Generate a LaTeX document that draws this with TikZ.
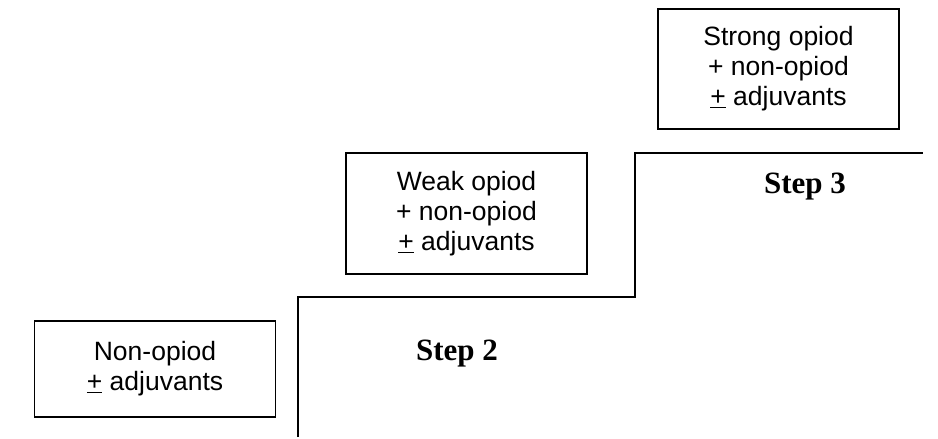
\documentclass[tikz,border=0pt]{standalone}
\usepackage{fontspec}
\setmainfont{Liberation Sans}
\newfontfamily\stepfont{Liberation Serif}
\begin{document}
\begin{tikzpicture}[x=1pt,y=-1pt,
  drugbox/.style={draw,line width=1.4pt,minimum width=241pt,align=center,inner sep=0pt,
    font=\fontsize{26.5}{30}\selectfont},
  steplabel/.style={font=\stepfont\bfseries\fontsize{31}{34}\selectfont,inner sep=0pt}]
\useasboundingbox (0,0) rectangle (938,439);
\node[drugbox,minimum height=96pt] (b1) at (155,369) {Non-opiod\\\underline{+} adjuvants};
\node[drugbox,minimum height=121pt] (b2) at (466.5,213.5) {Weak opiod\\+ non-opiod\\\underline{+} adjuvants};
\node[drugbox,minimum height=120pt] (b3) at (778.5,69) {Strong opiod\\+ non-opiod\\\underline{+} adjuvants};
\coordinate (s0) at (298,437);
\coordinate (s1) at (298,297);
\coordinate (s2) at (635,297);
\coordinate (s3) at (635,153);
\coordinate (s4) at (923,153);
\draw[line width=1.4pt] (s0) -- (s1) -- (s2) -- (s3) -- (s4);
\node[steplabel,anchor=base] (st2) at (457,360) {Step 2};
\node[steplabel,anchor=base] (st3) at (805,193) {Step 3};
\end{tikzpicture}
\end{document}
